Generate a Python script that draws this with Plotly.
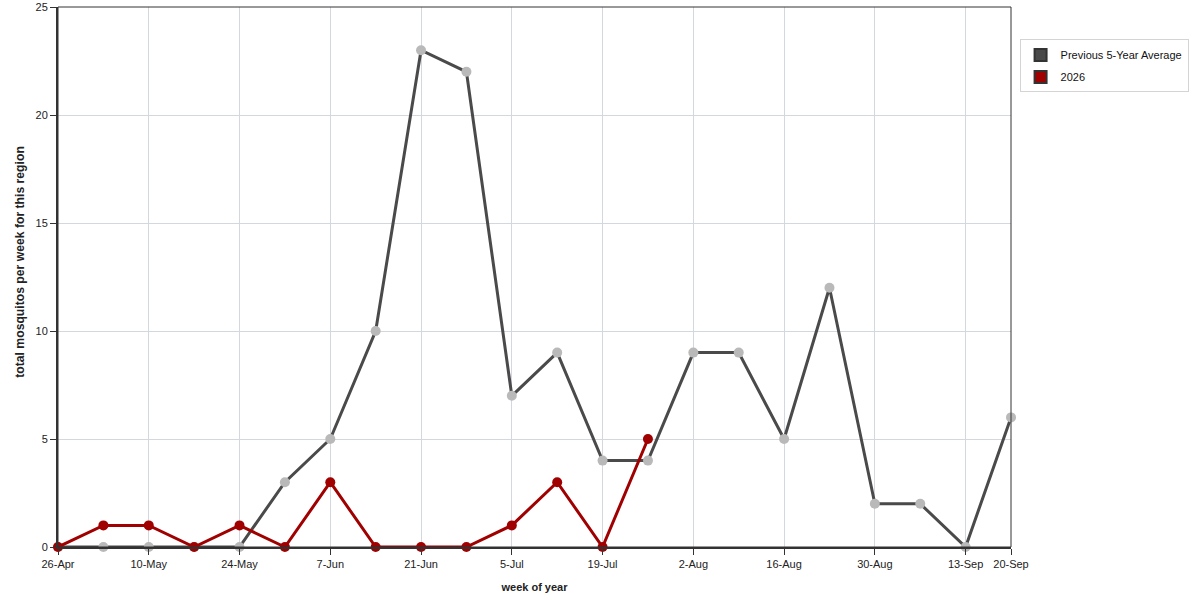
import plotly.graph_objects as go

weeks = [
    "2026-04-26", "2026-05-03", "2026-05-10", "2026-05-17", "2026-05-24",
    "2026-05-31", "2026-06-07", "2026-06-14", "2026-06-21", "2026-06-28",
    "2026-07-05", "2026-07-12", "2026-07-19", "2026-07-26", "2026-08-02",
    "2026-08-09", "2026-08-16", "2026-08-23", "2026-08-30", "2026-09-06",
    "2026-09-13", "2026-09-20",
]
avg_5yr = [0, 0, 0, 0, 0, 3, 5, 10, 23, 22, 7, 9, 4, 4, 9, 9, 5, 12, 2, 2, 0, 6]
year_2026 = [0, 1, 1, 0, 1, 0, 3, 0, 0, 0, 1, 3, 0, 5]

tick_vals = [
    "2026-04-26", "2026-05-10", "2026-05-24", "2026-06-07", "2026-06-21",
    "2026-07-05", "2026-07-19", "2026-08-02", "2026-08-16", "2026-08-30",
    "2026-09-13", "2026-09-20",
]
tick_text = [
    "26-Apr", "10-May", "24-May", "7-Jun", "21-Jun", "5-Jul", "19-Jul",
    "2-Aug", "16-Aug", "30-Aug", "13-Sep", "20-Sep",
]

GREY_LINE = "#4a4a4a"
GREY_DOT = "#b9b9b9"
RED = "#a00000"

fig = go.Figure()

fig.add_trace(
    go.Scatter(
        x=weeks,
        y=avg_5yr,
        mode="lines+markers",
        line=dict(color=GREY_LINE, width=3),
        marker=dict(color=GREY_DOT, size=10),
        name="Previous 5-Year Average",
        showlegend=False,
        cliponaxis=False,
    )
)
fig.add_trace(
    go.Scatter(
        x=weeks[: len(year_2026)],
        y=year_2026,
        mode="lines+markers",
        line=dict(color=RED, width=3),
        marker=dict(color=RED, size=10),
        name="2026",
        showlegend=False,
        cliponaxis=False,
    )
)

# legend entries drawn as squares
for name, col in [("Previous 5-Year Average", GREY_LINE), ("2026", RED)]:
    fig.add_trace(
        go.Scatter(
            x=[None],
            y=[None],
            mode="markers",
            marker=dict(symbol="square", size=12, color=col, line=dict(color="#333", width=1)),
            name=name,
            legendgroup=name,
            hoverinfo="none",
        )
    )

# thin frame round the plot area
fig.add_shape(
    type="rect", xref="paper", yref="paper", x0=0, y0=0, x1=1, y1=1,
    line=dict(color="#333", width=1),
)

# y title placed by hand (sits a bit above the axis centre in the original)
fig.add_annotation(
    text="<b>total mosquitos per week for this region</b>",
    xref="paper", yref="paper",
    x=-0.04, y=0.528,
    xanchor="center", yanchor="middle",
    textangle=-90,
    showarrow=False,
    font=dict(size=12.2, color="#222"),
)

fig.update_layout(
    width=1200,
    height=600,
    paper_bgcolor="white",
    plot_bgcolor="white",
    margin=dict(l=58, r=189, t=7, b=53, autoexpand=False),
    font=dict(family="Liberation Sans, Arial, sans-serif", size=11, color="#222"),
    legend=dict(
        x=1.009,
        y=0.94,
        xanchor="left",
        yanchor="top",
        bordercolor="#d4d4d4",
        borderwidth=1,
        font=dict(size=11, color="#111"),
        tracegroupgap=3,
        itemsizing="constant",
    ),
    xaxis=dict(
        range=["2026-04-26", "2026-09-20"],
        tickvals=tick_vals,
        ticktext=tick_text,
        showgrid=True,
        gridcolor="#d3d7de",
        zeroline=False,
        showline=True,
        linecolor="#333",
        linewidth=2,
        ticks="outside",
        ticklen=6,
        tickcolor="#333",
        tickfont=dict(size=11, color="#222"),
        ticklabeloverflow="allow",
        automargin=False,
        title=dict(text="<b>week of year</b>", font=dict(size=11, color="#222"), standoff=14),
    ),
    yaxis=dict(
        range=[0, 25],
        tickvals=[0, 5, 10, 15, 20, 25],
        showgrid=True,
        gridcolor="#d3d7de",
        zeroline=False,
        showline=True,
        linecolor="#333",
        linewidth=2,
        ticks="outside",
        ticklen=6,
        tickcolor="#333",
        tickfont=dict(size=11, color="#222"),
        ticklabeloverflow="allow",
        automargin=False,
    ),
)

# drop the browser's default 8px body margin so the figure fills the window
fig.write_html(
    "out.html",
    config={"displayModeBar": False},
    post_script="document.body.style.margin='0';",
)
